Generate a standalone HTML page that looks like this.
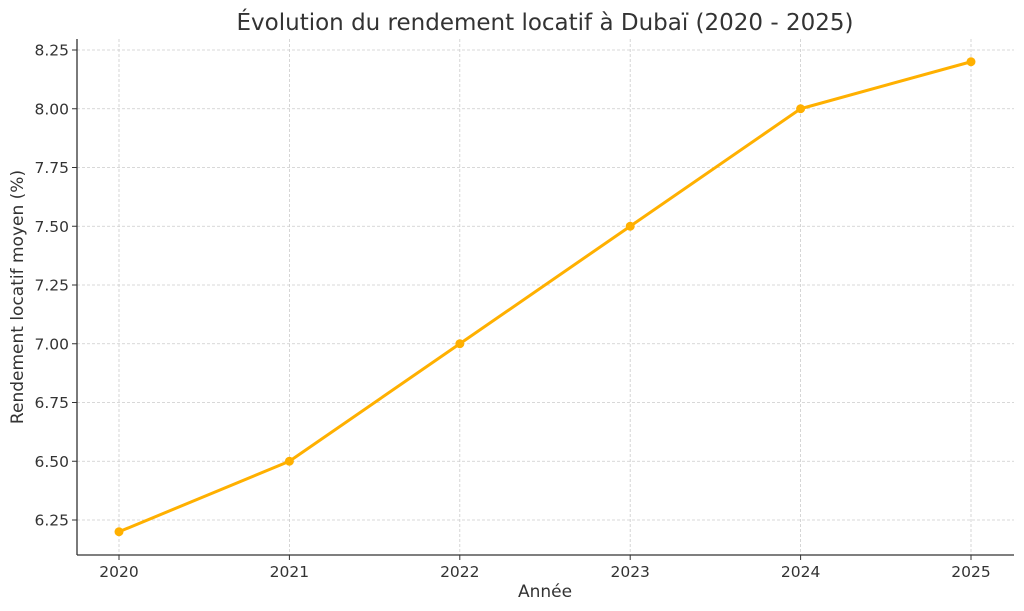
<!DOCTYPE html>
<html><head><meta charset="utf-8"><style>
html,body{margin:0;padding:0;background:#fff;}
svg{display:block;font-family:"DejaVu Sans","Liberation Sans",sans-serif;}
</style></head><body>
<svg id="chart" width="1024" height="611" viewBox="0 0 1024 611">
<text x="545" y="30" font-size="23" fill="#333" text-anchor="middle">Évolution du rendement locatif à Dubaï (2020 - 2025)</text>
<g id="grid"></g>
<g id="axes"></g>
<g id="series"></g>
<text x="545" y="597" font-size="17" fill="#333" text-anchor="middle">Année</text>
<text x="0" y="0" font-size="17" fill="#333" text-anchor="middle" transform="translate(23,297) rotate(-90)">Rendement locatif moyen (%)</text>
</svg>
<script>
const years = [2020, 2021, 2022, 2023, 2024, 2025];
const rates = [6.2, 6.5, 7.0, 7.5, 8.0, 8.2];
const yTicks = [6.25, 6.5, 6.75, 7.0, 7.25, 7.5, 7.75, 8.0, 8.25];

const NS = "http://www.w3.org/2000/svg";
const pLeft = 77, pRight = 1014, pTop = 39, pBottom = 555;
function xScale(v){ return 119 + (v - 2020) * (971 - 119) / 5; }
function yScale(v){ return 520 - (v - 6.25) * (520 - 50) / 2.0; }
function mk(tag, attrs, parent){
  const e = document.createElementNS(NS, tag);
  for (const k in attrs) e.setAttribute(k, attrs[k]);
  parent.appendChild(e); return e;
}
const gridG = document.getElementById('grid');
const axesG = document.getElementById('axes');
const seriesG = document.getElementById('series');

yTicks.forEach(t => {
  const y = yScale(t);
  const g = mk('line', {x1:pLeft, x2:pRight, y1:y, y2:y, stroke:'#cccccc', 'stroke-width':0.8, 'stroke-dasharray':'3,2'}, gridG);
  
  
  const tk = mk('line', {x1:pLeft-5, x2:pLeft, y1:y, y2:y, stroke:'#333', 'stroke-width':1}, axesG);
  
  
  const lb = mk('text', {x:pLeft-8, y:y+5.5, 'font-size':15.5, fill:'#333', 'text-anchor':'end'}, axesG);
  lb.textContent = t.toFixed(2);
  
  
});
years.forEach(yr => {
  const x = xScale(yr);
  const g = mk('line', {x1:x, x2:x, y1:pTop, y2:pBottom, stroke:'#cccccc', 'stroke-width':0.8, 'stroke-dasharray':'3,2'}, gridG);
  
  
  const tk = mk('line', {x1:x, x2:x, y1:pBottom, y2:pBottom+5, stroke:'#333', 'stroke-width':1}, axesG);
  
  
  const lb = mk('text', {x:x, y:pBottom+22, 'font-size':15.5, fill:'#333', 'text-anchor':'middle'}, axesG);
  lb.textContent = String(yr);
  
  
});
const ls = mk('line', {x1:pLeft, x2:pLeft, y1:pTop, y2:pBottom, stroke:'#333', 'stroke-width':1.3}, axesG);


const bs = mk('line', {x1:pLeft, x2:pRight, y1:pBottom, y2:pBottom, stroke:'#333', 'stroke-width':1.3}, axesG);



const pts = years.map((yr, i) => xScale(yr) + ',' + yScale(rates[i])).join(' ');
const pl = mk('polyline', {points:pts, fill:'none', stroke:'#FFB000', 'stroke-width':3, 'stroke-linejoin':'round'}, seriesG);


years.forEach((yr, i) => {
  const c = mk('circle', {cx:xScale(yr), cy:yScale(rates[i]), r:4.5, fill:'#FFB000'}, seriesG);
  
  
});
</script>
</body></html>
